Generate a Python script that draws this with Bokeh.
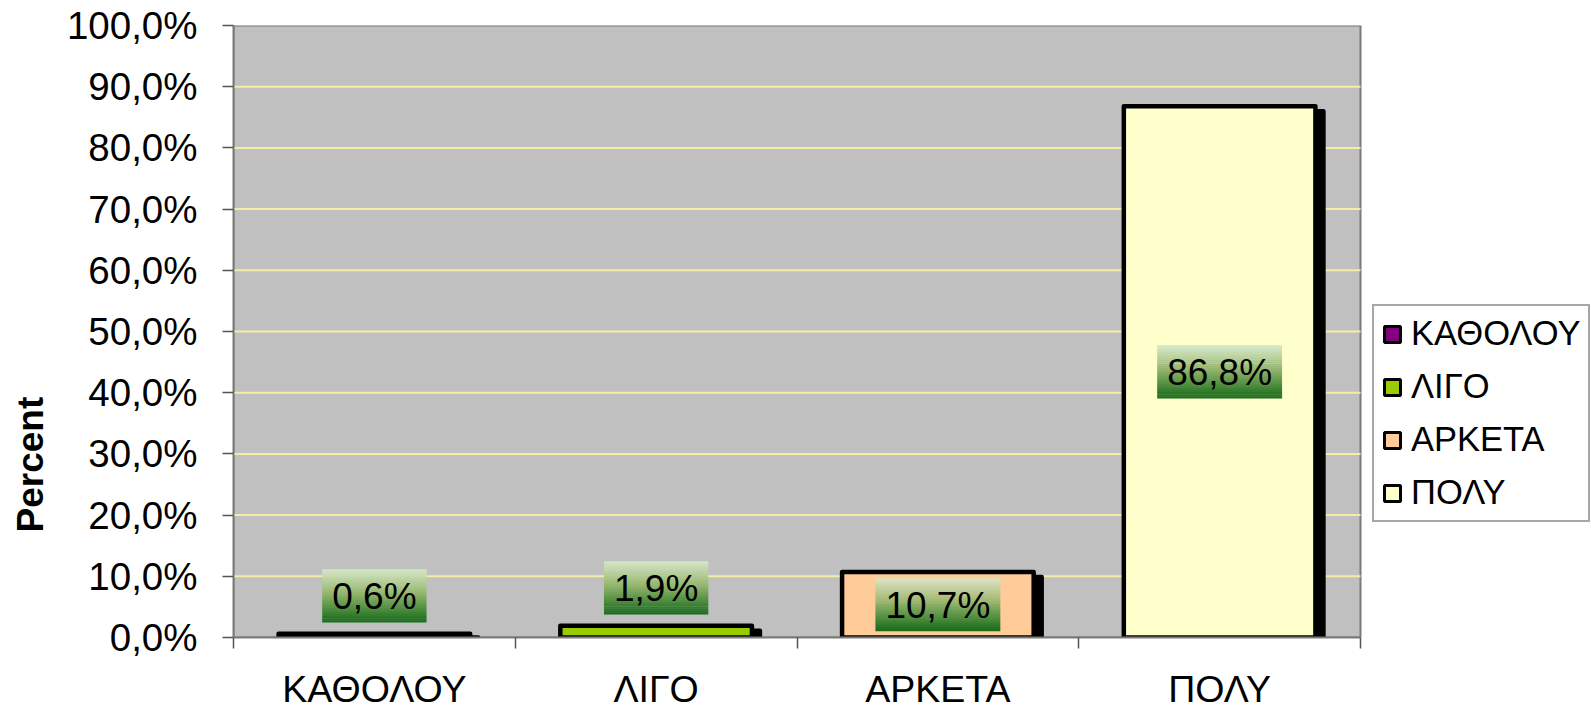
import math
from bokeh.plotting import figure
from bokeh.models import (Range1d, FixedTicker, CustomJSTickFormatter, Legend,
                          LegendItem, Title, ColumnDataSource)
from bokeh.core.properties import value
from bokeh.embed import file_html
from bokeh.resources import INLINE

# ---------------- data ----------------
categories = ["ΚΑΘΟΛΟΥ", "ΛΙΓΟ", "ΑΡΚΕΤΑ", "ΠΟΛΥ"]
percent = [0.6, 1.9, 10.7, 86.8]
bar_colors = ["#800080", "#99cc00", "#ffcc99", "#ffffcc"]
label_texts = ["0,6%", "1,9%", "10,7%", "86,8%"]
y_ticks = [0, 10, 20, 30, 40, 50, 60, 70, 80, 90, 100]
y_title = "Percent"

# ---------------- layout / style ----------------
FONT = "Liberation Sans"
W, H = 1591, 712
ML, MT, MB = 233, 25, 74
PLOT_RIGHT = 1360                     # right edge of the grey plot area (px)
FRAME_H = H - MT - MB
PX = FRAME_H / 100.0                  # pixels per percent unit
N_CAT = len(categories)
X_END = N_CAT * (W - ML) / (PLOT_RIGHT - ML)

p = figure(width=W, height=H, x_range=Range1d(0, X_END),
           y_range=Range1d(0, 100), output_backend="svg", toolbar_location=None,
           min_border_left=ML, min_border_right=0, min_border_top=MT,
           min_border_bottom=MB)
p.background_fill_color = "white"
p.border_fill_color = "white"
p.outline_line_color = None
p.xgrid.visible = False
p.ygrid.visible = False

# grey plot area + grid lines
p.quad(left=[0], right=[N_CAT], bottom=[0], top=[100], fill_color="#c0c0c0",
       line_color="#7a7a7a", line_width=2)
grid_y = y_ticks[1:-1]
p.segment(x0=[0] * len(grid_y), x1=[N_CAT] * len(grid_y), y0=grid_y, y1=grid_y,
          line_color="#f2eea4", line_width=2)

# y axis
ya = p.yaxis[0]
ya.ticker = FixedTicker(ticks=y_ticks)
ya.formatter = CustomJSTickFormatter(code="return tick.toFixed(1).replace('.', ',') + '%';")
ya.axis_line_color = "#7a7a7a"
ya.axis_line_width = 2
ya.major_tick_line_color = "#555555"
ya.major_tick_line_width = 1.5
ya.major_tick_in = 0
ya.major_tick_out = 11
ya.minor_tick_line_color = None
ya.major_label_standoff = 25
ya.major_label_text_font = FONT
ya.major_label_text_font_size = "38.5px"
ya.major_label_text_color = "black"

# x axis: labels at centres, tick marks between categories
xa = p.xaxis[0]
centers = [i + 0.5 for i in range(N_CAT)]
bounds = [i for i in range(N_CAT + 1)]
xa.bounds = (0, N_CAT)
xa.ticker = FixedTicker(ticks=centers, minor_ticks=bounds)
xa.formatter = CustomJSTickFormatter(args=dict(labels=categories),
                                     code="return labels[Math.floor(tick)];")
xa.axis_line_color = "#7a7a7a"
xa.axis_line_width = 2
xa.major_tick_line_color = None
xa.major_tick_in = 0
xa.major_tick_out = 0
xa.minor_tick_line_color = "#555555"
xa.minor_tick_line_width = 1.5
xa.minor_tick_in = 0
xa.minor_tick_out = 11
xa.major_label_standoff = 19
xa.major_label_text_font = FONT
xa.major_label_text_font_size = "37.5px"
xa.major_label_text_color = "black"

# ---------------- bars ----------------
BAR_W = 0.68
shadow_dx = 8.0 / ((PLOT_RIGHT - ML) / N_CAT)
shadow_dy = 5.0 / PX
shadow_src = ColumnDataSource(dict(
    x=[c + shadow_dx for c in centers],
    top=[max(v - shadow_dy, 0) for v in percent]))
p.vbar(x="x", top="top", bottom=0, width=BAR_W, source=shadow_src,
       fill_color="black", line_color="black", line_width=4.5, line_join="round")

bar_src = ColumnDataSource(dict(x=centers, top=percent, color=bar_colors))
p.vbar(x="x", top="top", bottom=0, width=BAR_W, source=bar_src,
       fill_color="color", line_color="black", line_width=4.5, line_join="round")

# ---------------- data labels with gradient boxes ----------------
char_w = {c: 0.556 for c in "0123456789"}
char_w.update({",": 0.278, "%": 0.889})
LBL_FS = 37
BOX_H = 53
N = 26
stops = [(0.0, (216, 232, 202)), (0.45, (150, 182, 110)), (1.0, (20, 106, 24))]


def grad(t):
    for (t0, c0), (t1, c1) in zip(stops[:-1], stops[1:]):
        if t <= t1:
            f = (t - t0) / (t1 - t0)
            return "#%02x%02x%02x" % tuple(int(round(a + (b - a) * f)) for a, b in zip(c0, c1))
    return "#%02x%02x%02x" % stops[-1][1]


sx, sy, sw, sh, sc = [], [], [], [], []
tx, ty = [], []
for xc, v, t in zip(centers, percent, label_texts):
    if v * PX >= BOX_H + 12:
        yc = v / 2.0
    else:
        yc = v + 38.0 / PX
    wpx = sum(char_w.get(ch, 0.6) for ch in t) * LBL_FS + 20
    for k in range(N):
        off_px = BOX_H / 2.0 - (k + 0.5) * BOX_H / N
        sx.append(xc)
        sy.append(yc + off_px / PX)
        sw.append(wpx)
        sh.append(BOX_H / N / PX * 1.12)
        sc.append(grad((k + 0.5) / N))
    tx.append(xc)
    ty.append(yc)

p.rect(x="x", y="y", width="w", height="h", width_units="screen",
       source=ColumnDataSource(dict(x=sx, y=sy, w=sw, h=sh, c=sc)),
       fill_color="c", line_color=None)
p.text(x="x", y="y", text="t", source=ColumnDataSource(dict(x=tx, y=ty, t=label_texts)),
       text_font=value(FONT), text_font_size="%dpx" % LBL_FS, text_color="black",
       text_align="center", text_baseline="middle", y_offset=1)

# ---------------- y title ----------------
p.add_layout(Title(text=" ", text_font=FONT, text_font_size="10px", standoff=0), "left")
p.add_layout(Title(text=y_title, align="left", offset=105, text_font=FONT,
                   text_font_size="37px", text_font_style="bold",
                   text_color="black", standoff=0), "left")

# ---------------- legend ----------------
nan = float("nan")
leg_src = ColumnDataSource(dict(l=[nan] * N_CAT, r=[nan] * N_CAT, t=[nan] * N_CAT,
                                b=[nan] * N_CAT, c=bar_colors))
leg_r = p.quad(left="l", right="r", top="t", bottom="b", fill_color="c",
               line_color="black", line_width=3, source=leg_src)
items = [LegendItem(label=c, renderers=[leg_r], index=i) for i, c in enumerate(categories)]
LEG_LEFT, LEG_BOTTOM = 1372, 523
legend = Legend(items=items, location=(LEG_LEFT - ML, H - MB - LEG_BOTTOM),
                orientation="vertical")
legend.label_text_font = FONT
legend.label_text_font_size = "34.5px"
legend.label_text_color = "black"
legend.glyph_width = 20
legend.glyph_height = 20
legend.label_standoff = 9
legend.spacing = 14
legend.padding = 8
legend.margin = 0
legend.border_line_color = "#505050"
legend.border_line_width = 2
legend.background_fill_color = "white"
legend.background_fill_alpha = 1
p.add_layout(legend, "center")

open("out.html", "w").write(file_html(p, INLINE))
